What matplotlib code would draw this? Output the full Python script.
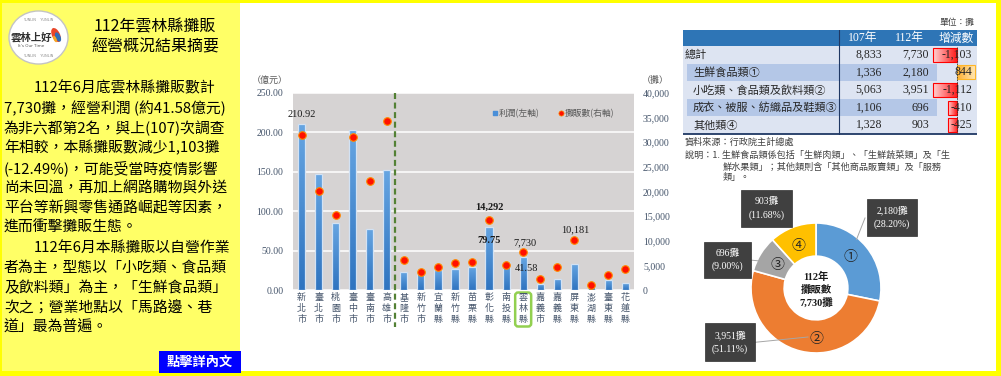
import numpy as np
import matplotlib
matplotlib.use('Agg')
import matplotlib.pyplot as plt
from matplotlib.patches import Rectangle, FancyBboxPatch, Ellipse
from matplotlib.colors import LinearSegmentedColormap
import matplotlib.transforms as mtransforms

# ---------------- data ----------------
counties = ['新北市', '臺北市', '桃園市', '臺中市', '臺南市', '高雄市', '基隆市', '新竹市',
            '宜蘭縣', '新竹縣', '苗栗縣', '彰化縣', '南投縣', '雲林縣', '嘉義市', '嘉義縣',
            '屏東縣', '澎湖縣', '臺東縣', '花蓮縣']
profit = [210.92, 147.5, 84.7, 202.5, 77.5, 151.7, 22.3, 24.4, 24.8, 26.2,
          29.2, 79.75, 35.0, 41.58, 7.8, 14.4, 33.5, 3.3, 12.6, 8.4]
stalls = [31400, 20100, 15250, 31000, 22100, 34300, 6100, 3720, 4670, 5550,
          5750, 14292, 5050, 7730, 2230, 4680, 10181, 980, 2980, 4310]
profit_label_idx = [0, 11, 13]
stall_label_idx = [11, 13, 16]
highlight_idx = 13
six_cities = 6

tab_categories = ['總計', '生鮮食品類①', '小吃類、食品類及飲料類②', '成衣、被服、紡織品及鞋類③', '其他類④']
tab_107 = [8833, 1336, 5063, 1106, 1328]
tab_112 = [7730, 2180, 3951, 696, 903]
tab_change = [-1103, 844, -1112, -410, -425]

donut_marks = ['①', '②', '③', '④']
donut_values = [2180, 3951, 696, 903]
donut_colors = ['#5b9bd5', '#ed7d31', '#a5a5a5', '#ffc000']

summary_lines = [
    '112年6月底雲林縣攤販數計',
    '7,730攤，經營利潤 (約41.58億元)',
    '為非六都第2名，與上(107)次調查',
    '年相較，本縣攤販數減少1,103攤',
    '(-12.49%)，可能受當時疫情影響',
    '尚未回溫，再加上網路購物與外送',
    '平台等新興零售通路崛起等因素，',
    '進而衝擊攤販生態。',
    '112年6月本縣攤販以自營作業',
    '者為主，型態以「小吃類、食品類',
    '及飲料類」為主，「生鮮食品類」',
    '次之；營業地點以「馬路邊、巷',
    '道」最為普遍。',
]
indented = [0, 8]

# ---------------- figure ----------------
W, H = 1001, 376
fig = plt.figure(figsize=(W / 100, H / 100), dpi=100)
fig.patch.set_facecolor('white')
SANS = ['Noto Sans CJK TC', 'DejaVu Sans']
SERIF = ['Liberation Serif', 'Noto Sans CJK TC', 'DejaVu Sans']
plt.rcParams['font.family'] = SANS


def ax_px(x0, y0, x1, y1, **kw):
    return fig.add_axes([x0 / W, 1 - y1 / H, (x1 - x0) / W, (y1 - y0) / H], **kw)


def ptext(x, y, s, **kw):
    kw.setdefault('ha', 'left')
    kw.setdefault('va', 'center')
    kw.setdefault('zorder', 10)
    return fig.text(x / W, 1 - y / H, s, **kw)


# background
bg = fig.add_axes([0, 0, 1, 1], zorder=-5)
bg.set_xlim(0, W)
bg.set_ylim(H, 0)
bg.axis('off')
bg.add_patch(Rectangle((0, 0), 240, H, fc='#ffff66', ec='none'))
for (rx, ry, rw, rh) in [(0, 0, W, 2.5), (995.5, 0, 6, H), (0, 371, W, 5), (0, 0, 2, H)]:
    bg.add_patch(Rectangle((rx, ry), rw, rh, fc='#ffff00', ec='none'))

# logo
bg.add_patch(Ellipse((38.5, 37.5), 59, 53, fc='white', ec='#c4c4c4', lw=1))
bg.add_patch(Ellipse((56, 35), 8, 15, angle=-25, fc='#e8462a', ec='none'))
bg.add_patch(Ellipse((58, 37), 5, 10, angle=-25, fc='#2f6db5', ec='none'))
bg.add_patch(Ellipse((55, 39), 3, 7, angle=-25, fc='#f6a623', ec='none'))
ptext(31, 37, '雲林上好', fontsize=7.5, fontweight='bold', color='#303030', ha='center')
ptext(31, 46, "It's Our Time", fontsize=3, color='#555555', ha='center', family='DejaVu Sans')
ptext(38, 20, 'YUNLIN    YUNLIN', fontsize=2.5, color='#8a8a8a', ha='center', family='DejaVu Sans')
ptext(38, 56, 'YUNLIN    YUNLIN', fontsize=2.5, color='#8a8a8a', ha='center', family='DejaVu Sans')

# title and summary
ptext(155, 27, '112年雲林縣攤販', fontsize=11.5, ha='center', color='black')
ptext(155, 47, '經營概況結果摘要', fontsize=11.5, ha='center', color='black')
for i, line in enumerate(summary_lines):
    ptext(34 if i in indented else 4, 88 + 20 * i, line, fontsize=10.7, color='black')

# button
bg.add_patch(Rectangle((159, 351), 82, 22, fc='#0000ff', ec='none'))
ptext(200, 362, '點擊詳內文', fontsize=9.5, fontweight='bold', color='white', ha='center')

# ---------------- bar chart ----------------
AX0, AY0, AX1, AY1 = 293, 93, 634, 290
ax = ax_px(AX0, AY0, AX1, AY1)
ax.set_facecolor('#d6d3d3')
xs = np.arange(len(counties))
bars = ax.bar(xs, profit, width=0.42, color='#4a8fd8', linewidth=0, zorder=2)
cmap_bar = LinearSegmentedColormap.from_list('b', ['#2f74c0', '#66a5e2'])
grad_v = np.linspace(0, 1, 64).reshape(-1, 1)
for b in bars:
    im = ax.imshow(grad_v, extent=[b.get_x(), b.get_x() + b.get_width(), 0, b.get_height()],
                   origin='lower', aspect='auto', cmap=cmap_bar, zorder=2.1)
    im.set_clip_path(b)
ax.bar(xs, profit, width=0.42, fill=False, edgecolor='#d3e2f3', linewidth=0.9, zorder=2.2)
ax.set_xlim(-0.5, len(counties) - 0.5)
ax.set_ylim(0, 250)
for s in ax.spines.values():
    s.set_visible(False)
ax.yaxis.grid(True, color='white', lw=1.1)
ax.set_axisbelow(True)
yt = np.arange(0, 251, 50)
ax.set_yticks(yt)
ax.set_yticklabels([f'{v:.2f}' for v in yt], family=SERIF, fontsize=7, color='#44546a')
ax.tick_params(axis='y', length=0, pad=7)
ax.set_xticks(xs)
ax.set_xticklabels(['\n'.join(c) for c in counties], fontsize=6.5, linespacing=1.3,
                   color='#44546a', va='top')
ax.tick_params(axis='x', length=0, pad=2)

ax2 = ax.twinx()
ax2.set_ylim(0, 40000)
for s in ax2.spines.values():
    s.set_visible(False)
yt2 = np.arange(0, 40001, 5000)
ax2.set_yticks(yt2)
ax2.set_yticklabels([f'{v:,}' for v in yt2], family=SERIF, fontsize=7, color='#44546a')
ax2.tick_params(axis='y', length=0, pad=6.5)
ax2.scatter(xs, stalls, s=30, c='#ff1000', edgecolors='#ff8a00', linewidths=0.8, zorder=4)

blend = mtransforms.blended_transform_factory(ax2.transData, ax2.transAxes)
ax2.plot([six_cities - 0.5] * 2, [1, -0.19], transform=blend, color='#538135', lw=1.6,
         dashes=(2.7, 1.6), clip_on=False, zorder=5)

for i in profit_label_idx:
    if i == 0:
        off, fw = (0, 6.5), 'normal'
    elif i == 11:
        off, fw = (0, -9.4), 'bold'
    else:
        off, fw = (2, -7.9), 'normal'
    ax.annotate(f'{profit[i]:.2f}', (xs[i], profit[i]), xytext=off, textcoords='offset points',
                ha='center', va='center', fontsize=7.5, fontweight=fw, family=SERIF,
                color='#1a1a1a', zorder=6)
for i in stall_label_idx:
    off = {11: (0, 8.6), 13: (1, 6.3), 16: (1, 7.6)}[i]
    fw = 'bold' if i == 11 else 'normal'
    ax2.annotate(f'{stalls[i]:,}', (xs[i], stalls[i]), xytext=off, textcoords='offset points',
                 ha='center', va='center', fontsize=7.5, fontweight=fw, family=SERIF,
                 color='#1a1a1a', zorder=6)

# legend
ax2.scatter([0.592], [0.897], marker='s', s=6, c='#4a8fd8', transform=ax2.transAxes, clip_on=False)
ax2.text(0.603, 0.897, '利潤(左軸)', transform=ax2.transAxes, fontsize=6.3, color='#595959',
         va='center', ha='left')
ax2.scatter([0.785], [0.897], marker='o', s=14, c='#ff1000', edgecolors='#ff8a00', linewidths=0.5,
            transform=ax2.transAxes, clip_on=False)
ax2.text(0.797, 0.897, '攤販數(右軸)', transform=ax2.transAxes, fontsize=6.3, color='#595959',
         va='center', ha='left')

ptext(270, 80, '（億元）', fontsize=6.5, color='#595959', ha='center')
ptext(655, 80.5, '（攤）', fontsize=6.5, color='#595959', ha='center')

# highlight box around 雲林縣
step = (AX1 - AX0) / len(counties)
cx = AX0 + (highlight_idx + 0.5) * step
bg.add_patch(FancyBboxPatch((cx - 8, 292.5), 16, 34, boxstyle='round,pad=0,rounding_size=3',
                            fc='none', ec='#92d050', lw=1.8))

# ---------------- table ----------------
TX0, TX1 = 683, 977
tab = ax_px(TX0, 30, TX1, 135)
tab.set_xlim(TX0, TX1)
tab.set_ylim(135, 30)
tab.axis('off')
tab.add_patch(Rectangle((TX0, 30), TX1 - TX0, 16, fc='#2e75b6', ec='none'))
row_top, row_h = 46, 17.6
for i in range(len(tab_categories)):
    y0 = row_top + i * row_h
    tab.add_patch(Rectangle((TX0, y0), TX1 - TX0, row_h, fc='#dde4f2', ec='none'))
    if i in (1, 3):
        tab.add_patch(Rectangle((687, y0 + 0.6), 250, row_h - 1.2, fc='#b4c7e7', ec='none'))
tab.plot([839, 839], [30, 134], color='#1f3864', lw=0.8)
tab.plot([TX0, TX1], [134, 134], color='#1f3864', lw=1.3)

db = ax_px(930, 46, 977, 134)
db.axis('off')
ypos = np.arange(len(tab_change)) + 0.5
hb = db.barh(ypos, tab_change, height=0.8, linewidth=0, color='none')
grad_h = np.linspace(0, 1, 64).reshape(1, -1)
cm_neg = LinearSegmentedColormap.from_list('n', ['#ffd2d2', '#ff1a1a'])
cm_pos = LinearSegmentedColormap.from_list('p', ['#ffb030', '#ffe8b8'])
for b, v in zip(hb, tab_change):
    xl = min(b.get_x(), b.get_x() + b.get_width())
    xr = max(b.get_x(), b.get_x() + b.get_width())
    im = db.imshow(grad_h, extent=[xl, xr, b.get_y(), b.get_y() + b.get_height()],
                   origin='lower', aspect='auto', cmap=cm_neg if v < 0 else cm_pos)
    im.set_clip_path(b)
db.barh(ypos, tab_change, height=0.8, fill=False,
        edgecolor=['#ff0000' if v < 0 else '#ffb628' for v in tab_change], linewidth=0.8)
db.axvline(0, color='#333333', lw=0.6, ls=(0, (2, 1.2)))
px_per_unit = 24 / 1103
db.set_xlim(-(957 - 930) / px_per_unit, (977 - 957) / px_per_unit)
db.set_ylim(len(tab_change), 0)

ptext(863, 38.5, '107年', fontsize=8.5, color='white', ha='center', family=SERIF)
ptext(909, 38.5, '112年', fontsize=8.5, color='white', ha='center', family=SERIF)
ptext(956, 38.5, '增減數', fontsize=8.5, color='white', ha='center', family=SERIF)
for i, cat in enumerate(tab_categories):
    yc = row_top + (i + 0.5) * row_h
    ptext(685 if i == 0 else 693, yc, cat, fontsize=8, color='#262626')
    ptext(882, yc, f'{tab_107[i]:,}', fontsize=8.5, color='#262626', ha='right', family=SERIF)
    ptext(929, yc, f'{tab_112[i]:,}', fontsize=8.5, color='#262626', ha='right', family=SERIF)
    ptext(972, yc, f'{tab_change[i]:,}', fontsize=8.5, color='#262626', ha='right', family=SERIF)

ptext(974, 23, '單位：攤', fontsize=6.3, color='#404040', ha='right')
ptext(685, 142, '資料來源：行政院主計總處', fontsize=6.6, color='#404040')
ptext(685, 155, '說明：1. 生鮮食品類係包括「生鮮肉類」、「生鮮蔬菜類」及「生', fontsize=6.6, color='#404040')
ptext(723, 167, '鮮水果類」；其他類則含「其他商品販賣類」及「服務', fontsize=6.6, color='#404040')
ptext(723, 178, '類」。', fontsize=6.6, color='#404040')

# ---------------- donut ----------------
DCX, DCY, DR = 816, 288, 65
dn = ax_px(DCX - 80, DCY - 80, DCX + 80, DCY + 80)
wedges, _ = dn.pie(donut_values, radius=1, startangle=90, counterclock=False,
                   colors=donut_colors, wedgeprops=dict(width=0.51, edgecolor='white', linewidth=1.2))
dn.set_xlim(-80 / DR, 80 / DR)
dn.set_ylim(-80 / DR, 80 / DR)
dn.axis('off')


def dpt(px, py):
    return ((px - DCX) / DR, (DCY - py) / DR)


total = sum(donut_values)
box_pos = [(892, 217.5), (730, 342), (727.5, 260), (766.5, 208.5)]
mark_pos = [(850, 257), (816, 339), (777, 265), (798.5, 246)]
leaders = [[(865, 218), (856.5, 239.5)], [(753, 342.5), (808, 337)], [(750, 260), (769.5, 262)], None]
for i, v in enumerate(donut_values):
    if leaders[i] is not None:
        (a, b_), (c, d) = dpt(*leaders[i][0]), dpt(*leaders[i][1])
        dn.plot([a, c], [b_, d], color='#a6a6a6', lw=0.7, clip_on=False, zorder=3)
    bx, by = dpt(*box_pos[i])
    dn.text(bx, by, f'{v:,}攤\n({v / total * 100:.2f}%)', ha='center', va='center', color='white',
            fontsize=7, family=SERIF, linespacing=1.5, clip_on=False, zorder=5,
            bbox=dict(boxstyle='square,pad=0.75', fc='#404040', ec='#303030', lw=0.5))
    mx, my = dpt(*mark_pos[i])
    dn.text(mx, my, donut_marks[i], ha='center', va='center', fontsize=10, color='#262626', zorder=6)

ptext(DCX, 277, '112年', fontsize=7.5, fontweight='bold', ha='center', family=SERIF, color='#1a1a1a')
ptext(DCX, 290, '攤販數', fontsize=7.5, fontweight='bold', ha='center', family=SERIF, color='#1a1a1a')
ptext(DCX, 303, f'{total:,}攤', fontsize=7.5, fontweight='bold', ha='center', family=SERIF, color='#1a1a1a')

fig.savefig('out.png', dpi=100)
